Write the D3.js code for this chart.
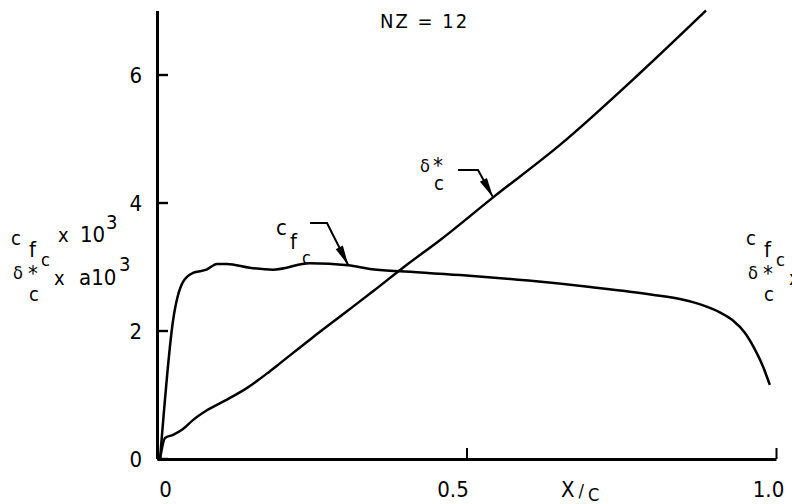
<!DOCTYPE html>
<html><head><meta charset="utf-8">
<script src="https://cdn.jsdelivr.net/npm/d3@7"></script>
<style>
body{margin:0;background:#fff;}
svg{display:block;}
text{font-family:"Liberation Sans Narrow","DejaVu Sans Condensed","Arial Narrow",sans-serif;fill:#000;}
</style></head>
<body>
<svg id="c" width="792" height="504"></svg>
<script>
// ---- data ----
const cfX = [0.005,0.026,0.042,0.058,0.08,0.097,0.113,0.15,0.187,0.247,0.309,0.344,0.4,0.5,0.6,0.7,0.8,0.85,0.88,0.91,0.93,0.95,0.965,0.978,0.99];
const cfY = [0,2.16,2.76,2.9,2.95,3.04,3.04,2.98,2.95,3.05,3.02,2.96,2.92,2.86,2.78,2.68,2.56,2.48,2.4,2.28,2.16,1.96,1.72,1.46,1.15];
const dsX = [0.005,0.013,0.026,0.042,0.058,0.08,0.113,0.145,0.178,0.199,0.25,0.3,0.35,0.4,0.457,0.543,0.651,0.78,0.887];
const dsY = [0,0.32,0.37,0.46,0.6,0.75,0.92,1.1,1.33,1.49,1.88,2.25,2.62,3.0,3.41,4.08,4.9,6.02,7.0];
const yTicks = [0,2,4,6];
const yTickLabels = ["0","2","4","6"];
const xTicks = [0,0.5,1.0];
const xTickLabels = ["0","0.5","1.0"];
const title = "NZ = 12";

const svg = d3.select("#c");
const x = d3.scaleLinear().domain([0,1]).range([157,776]);
const y = d3.scaleLinear().domain([0,7]).range([458.5,10.5]);

// y axis
const gy = svg.append("g").attr("transform","translate(157,0)")
  .call(d3.axisLeft(y).tickValues(yTicks).tickFormat((d,i)=>yTickLabels[i])
        .tickSizeInner(-11).tickSizeOuter(0).tickPadding(15));
gy.select(".domain").attr("stroke","#000").attr("stroke-width",3);
gy.selectAll(".tick line").attr("stroke","#000").attr("stroke-width",2.4);
gy.selectAll(".tick text").attr("font-size",22).attr("font-family",null).attr("dy","0.36em");

// x axis
const gx = svg.append("g").attr("transform","translate(0,459)")
  .call(d3.axisBottom(x).tickValues(xTicks).tickFormat((d,i)=>xTickLabels[i])
        .tickSizeInner(-11).tickSizeOuter(0).tickPadding(22));
gx.select(".domain").attr("stroke","#000").attr("stroke-width",3);
gx.selectAll(".tick line").attr("stroke","#000").attr("stroke-width",2);
const xdx = [8,-14,-8];
gx.selectAll(".tick text").attr("font-size",22).attr("font-family",null).attr("dx",(d,i)=>xdx[i]);

// curves
const line = d3.line().x(d=>x(d[0])).y(d=>y(d[1])).curve(d3.curveMonotoneX);
svg.append("path").datum(cfX.map((v,i)=>[v,cfY[i]])).attr("d",line)
  .attr("fill","none").attr("stroke","#000").attr("stroke-width",2.5);
svg.append("path").datum(dsX.map((v,i)=>[v,dsY[i]])).attr("d",line)
  .attr("fill","none").attr("stroke","#000").attr("stroke-width",2.5);

// title
svg.append("text").attr("x",380).attr("y",28).attr("font-size",20)
  .attr("letter-spacing",2).text(title);

// axis title x/c
const xl = svg.append("text").attr("x",561).attr("y",497).attr("font-size",22);
xl.append("tspan").text("X");
xl.append("tspan").attr("font-size",18).attr("dx",4).text("/");
xl.append("tspan").attr("font-size",18).attr("dx",4).attr("dy",4).text("C");

// y axis label (left and clipped copy on right)
function yLabel(ox){
  const g = svg.append("g").attr("transform",`translate(${ox},0)`);
  g.append("text").attr("x",11).attr("y",245).attr("font-size",20).text("c");
  g.append("text").attr("x",29).attr("y",257).attr("font-size",22).text("f");
  g.append("text").attr("x",41).attr("y",266).attr("font-size",18).text("c");
  g.append("text").attr("x",58).attr("y",242).attr("font-size",20).text("x");
  g.append("text").attr("x",80).attr("y",242).attr("font-size",22).text("10");
  g.append("text").attr("x",106).attr("y",229).attr("font-size",20).text("3");
  g.append("text").attr("x",13).attr("y",279).attr("font-size",18).text("δ");
  g.append("text").attr("x",28).attr("y",281).attr("font-size",22).text("*");
  g.append("text").attr("x",29).attr("y",301).attr("font-size",20).text("c");
  g.append("text").attr("x",54).attr("y",285).attr("font-size",20).text("x");
  g.append("text").attr("x",79).attr("y",285).attr("font-size",22).text("a10");
  g.append("text").attr("x",119).attr("y",271).attr("font-size",20).text("3");
}
yLabel(0);
yLabel(735);

// annotations
function leader(pts){
  svg.append("path").attr("d",d3.line()(pts)).attr("fill","none").attr("stroke","#000").attr("stroke-width",2);
  const [a,b] = [pts[pts.length-2],pts[pts.length-1]];
  const ang = Math.atan2(b[1]-a[1],b[0]-a[0]);
  const L=20,W=4;
  const bx=b[0]-L*Math.cos(ang), by=b[1]-L*Math.sin(ang);
  const px=-Math.sin(ang)*W, py=Math.cos(ang)*W;
  svg.append("path").attr("d",`M${b[0]},${b[1]}L${bx+px},${by+py}L${bx-px},${by-py}Z`).attr("fill","#000");
}
// c_fc
svg.append("text").attr("x",276).attr("y",235).attr("font-size",22).text("c");
svg.append("text").attr("x",290).attr("y",249).attr("font-size",22).text("f");
svg.append("text").attr("x",302).attr("y",264).attr("font-size",18).text("c");
leader([[310,223],[327,223],[x(0.309),y(3.02)]]);
// delta*_c
svg.append("text").attr("x",420).attr("y",172).attr("font-size",18).text("δ");
svg.append("text").attr("x",433).attr("y",173).attr("font-size",22).text("*");
svg.append("text").attr("x",434).attr("y",190).attr("font-size",20).text("c");
leader([[458,170],[478,170],[x(0.543),y(4.08)]]);
</script>
</body></html>
